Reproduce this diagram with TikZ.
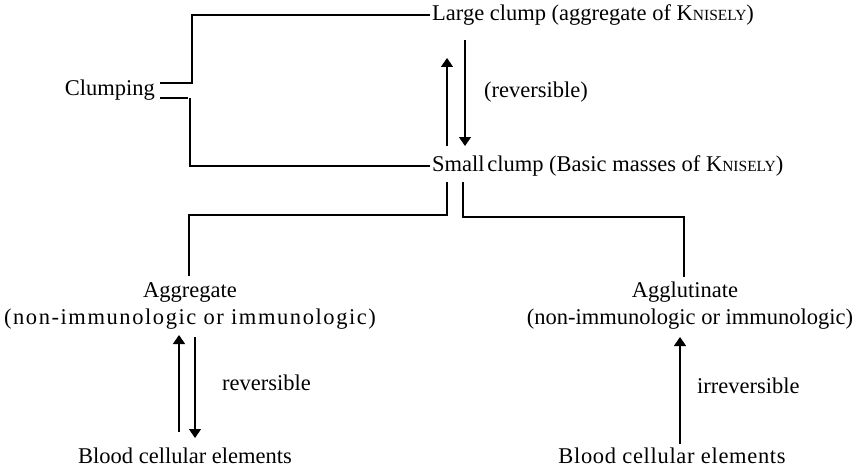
\documentclass[tikz,border=0pt]{standalone}
\usepackage{fontspec}
\setmainfont{Liberation Serif}
\usetikzlibrary{arrows.meta,calc}
\newcommand{\kn}{K{\fontsize{15.5}{18}\selectfont NISELY}}
\begin{document}
\begin{tikzpicture}[x=1pt,y=-1pt,
  txt/.style={inner sep=0pt,font=\fontsize{22.5}{26}\selectfont},
  ln/.style={line width=1.3pt},
  arr/.style={line width=1.3pt,-{Triangle[width=12pt,length=9pt]}}]
\useasboundingbox (0,0) rectangle (864,468);
% text nodes
\node[txt,anchor=base east] (clumping) at (155,96) {Clumping};
\node[txt,anchor=base west] (large) at (432,21) {Large clump (aggregate of \kn)};
\node[txt,anchor=base west] (small) at (432,171) {Small\hspace{-3pt} clump (Basic masses of \kn)};
\node[txt,anchor=base west] (rev1) at (484,98) {(reversible)};
\node[txt,anchor=base] (aggr) at (190,297) {Aggregate};
\node[txt,anchor=base] (aggrsub) at (190,324) {\addfontfeature{LetterSpace=7}(non-immunologic or immunologic)};
\node[txt,anchor=base] (aggl) at (685,297) {Agglutinate};
\node[txt,anchor=base] (agglsub) at (690,324) {(non-immunologic or immunologic)};
\node[txt,anchor=base west] (rev2) at (222,390) {reversible};
\node[txt,anchor=base west] (irrev) at (697,393) {irreversible};
\node[txt,anchor=base] (blood1) at (185,463) {Blood cellular elements};
\node[txt,anchor=base] (blood2) at (672,463) {\addfontfeature{LetterSpace=3}Blood cellular elements};
% coordinates
\coordinate (tA) at (160,83);
\coordinate (tB) at (160,98);
\coordinate (uTop) at (192,83);
\coordinate (lTop) at (190,98);
\coordinate (largeIn) at (430,15);
\coordinate (smallIn) at (430,166);
\coordinate (dL) at (447,182);
\coordinate (dR) at (463,182);
\coordinate (aggrTop) at (189,276);
\coordinate (agglTop) at (684,277);
% clumping bracket
\draw[ln] (tA) -- (uTop) |- (largeIn);
\draw[ln] (tB) -- (188,98);
\draw[ln] (lTop) |- (smallIn);
% reversible arrows top
\draw[arr] (447,146) -- (447,58);
\draw[arr] (465,40) -- (465,146);
% split
\draw[ln] (dL) |- (441,215) -- (189,215) -- (aggrTop);
\draw[ln] (dR) |- (468,217) -- (684,217) -- (agglTop);
% lower arrows
\draw[arr] (179,432) -- (179,335);
\draw[arr] (195,337) -- (195,438);
\draw[arr] (680,444) -- (680,337);
\end{tikzpicture}
\end{document}
